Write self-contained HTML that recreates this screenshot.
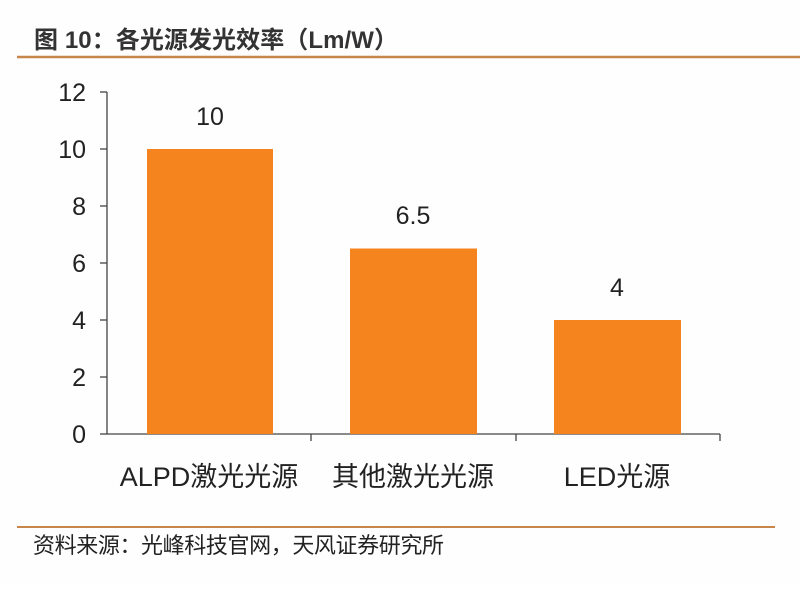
<!DOCTYPE html>
<html><head><meta charset="utf-8"><style>
body{margin:0;background:#fff;}
svg text{font-family:"Liberation Sans","Noto Sans CJK SC",sans-serif;}
</style></head><body>
<svg width="800" height="584" viewBox="0 0 800 584" xmlns="http://www.w3.org/2000/svg">
<rect width="800" height="584" fill="#fefefe"/>
<text x="34" y="48" font-size="24" font-weight="bold" fill="#333" textLength="364">图 10：各光源发光效率（Lm/W）</text>
<line x1="17" y1="57" x2="800" y2="57" stroke="#c8874a" stroke-width="2.5"/>
<g stroke="#444" stroke-width="1.3">
<line x1="107" y1="92" x2="107" y2="434"/>
<line x1="107" y1="434" x2="720" y2="434"/>
<line x1="100" y1="92" x2="107" y2="92"/>
<line x1="100" y1="149" x2="107" y2="149"/>
<line x1="100" y1="206" x2="107" y2="206"/>
<line x1="100" y1="263" x2="107" y2="263"/>
<line x1="100" y1="320" x2="107" y2="320"/>
<line x1="100" y1="377" x2="107" y2="377"/>
<line x1="100" y1="434" x2="107" y2="434"/>
<line x1="311" y1="434" x2="311" y2="441"/>
<line x1="516" y1="434" x2="516" y2="441"/>
<line x1="720" y1="434" x2="720" y2="441"/>
</g>
<g font-size="25" fill="#222" text-anchor="end">
<text x="86" y="101">12</text><text x="86" y="158">10</text><text x="86" y="215">8</text>
<text x="86" y="272">6</text><text x="86" y="329">4</text><text x="86" y="386">2</text><text x="86" y="443">0</text>
</g>
<g fill="#f5841f">
<rect x="147" y="149" width="126" height="285"/>
<rect x="350" y="248.5" width="127" height="185.5"/>
<rect x="554" y="320" width="127" height="114"/>
</g>
<g font-size="25" fill="#222" text-anchor="middle">
<text x="210" y="125">10</text><text x="413" y="224">6.5</text><text x="617" y="296">4</text>
</g>
<g font-size="27" fill="#222" text-anchor="middle">
<text x="209" y="486">ALPD激光光源</text><text x="413" y="486">其他激光光源</text><text x="617" y="486">LED光源</text>
</g>
<line x1="17" y1="527" x2="775" y2="527" stroke="#c8874a" stroke-width="2"/>
<text x="33" y="553" font-size="22" fill="#222" textLength="411">资料来源：光峰科技官网，天风证券研究所</text>
</svg>
</body></html>
